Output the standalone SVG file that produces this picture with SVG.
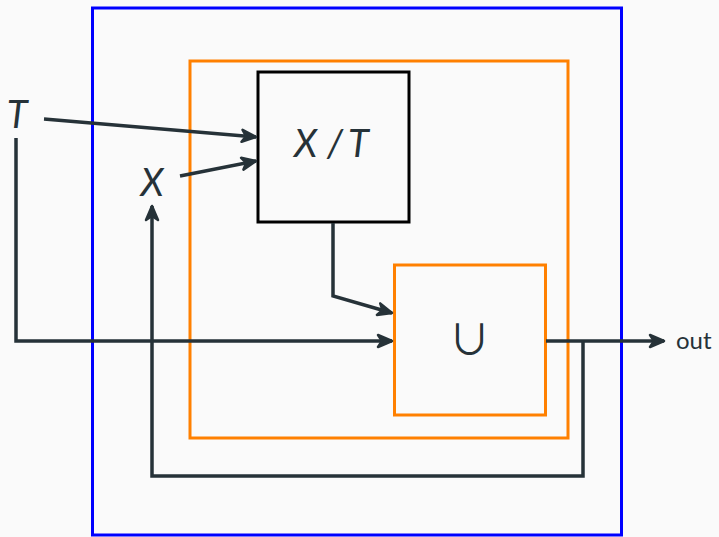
<svg xmlns="http://www.w3.org/2000/svg" width="719" height="537" viewBox="0 0 719 537">
<style>
.conn{fill:none;stroke:#263238;stroke-width:3.5;stroke-linejoin:miter}
.lbl{font-family:"Lato","Open Sans",sans-serif;fill:#263238}
.it{font-style:italic;font-size:38px}
</style>
<defs>
<marker id="ah" viewBox="0 0 18 16" refX="16" refY="8" markerWidth="18" markerHeight="16" markerUnits="userSpaceOnUse" orient="auto">
<path d="M2,2 L16,8 L2,14 L6,8 Z" fill="#263238" stroke="#263238" stroke-width="2.5" stroke-linejoin="round"/>
</marker>
</defs>
<rect width="719" height="537" fill="#FAFAFA"/>
<g id="outer"><rect x="92.5" y="8" width="529" height="527" fill="none" stroke="#0000FF" stroke-width="3"/></g>
<g id="inner"><rect x="190" y="61" width="378" height="377" fill="none" stroke="#FF8000" stroke-width="3"/></g>
<g id="quot"><rect x="258" y="72" width="151" height="150" fill="none" stroke="#000" stroke-width="3"/>
<text class="lbl it" y="157"><tspan x="294">X</tspan><tspan x="327">/</tspan><tspan x="348">T</tspan></text></g>
<g id="union"><rect x="394.5" y="265" width="151" height="150" fill="none" stroke="#FF8000" stroke-width="3"/>
<text x="469.5" y="355" font-family="Noto Sans CJK JP, sans-serif" font-size="42" fill="#263238" text-anchor="middle">∪</text></g>
<g id="labelT"><text class="lbl it" x="17" y="128" text-anchor="middle">T</text></g>
<g id="labelX"><text class="lbl it" x="152" y="196" text-anchor="middle">X</text></g>
<g id="labelOut"><text class="lbl" x="676" y="349" font-size="24">out</text></g>
<g id="connectors">
<path class="conn" d="M44,119 L256,137" marker-end="url(#ah)"/>
<path class="conn" d="M180,176 L256,161" marker-end="url(#ah)"/>
<path class="conn" d="M16,138 L16,341 L392,341" marker-end="url(#ah)"/>
<path class="conn" d="M333,223 L333,296 L392,313" marker-end="url(#ah)"/>
<path class="conn" d="M546,341 L664,341" marker-end="url(#ah)"/>
<path class="conn" d="M583,341 L583,476 L152,476 L152,206" marker-end="url(#ah)"/>
</g>
</svg>
